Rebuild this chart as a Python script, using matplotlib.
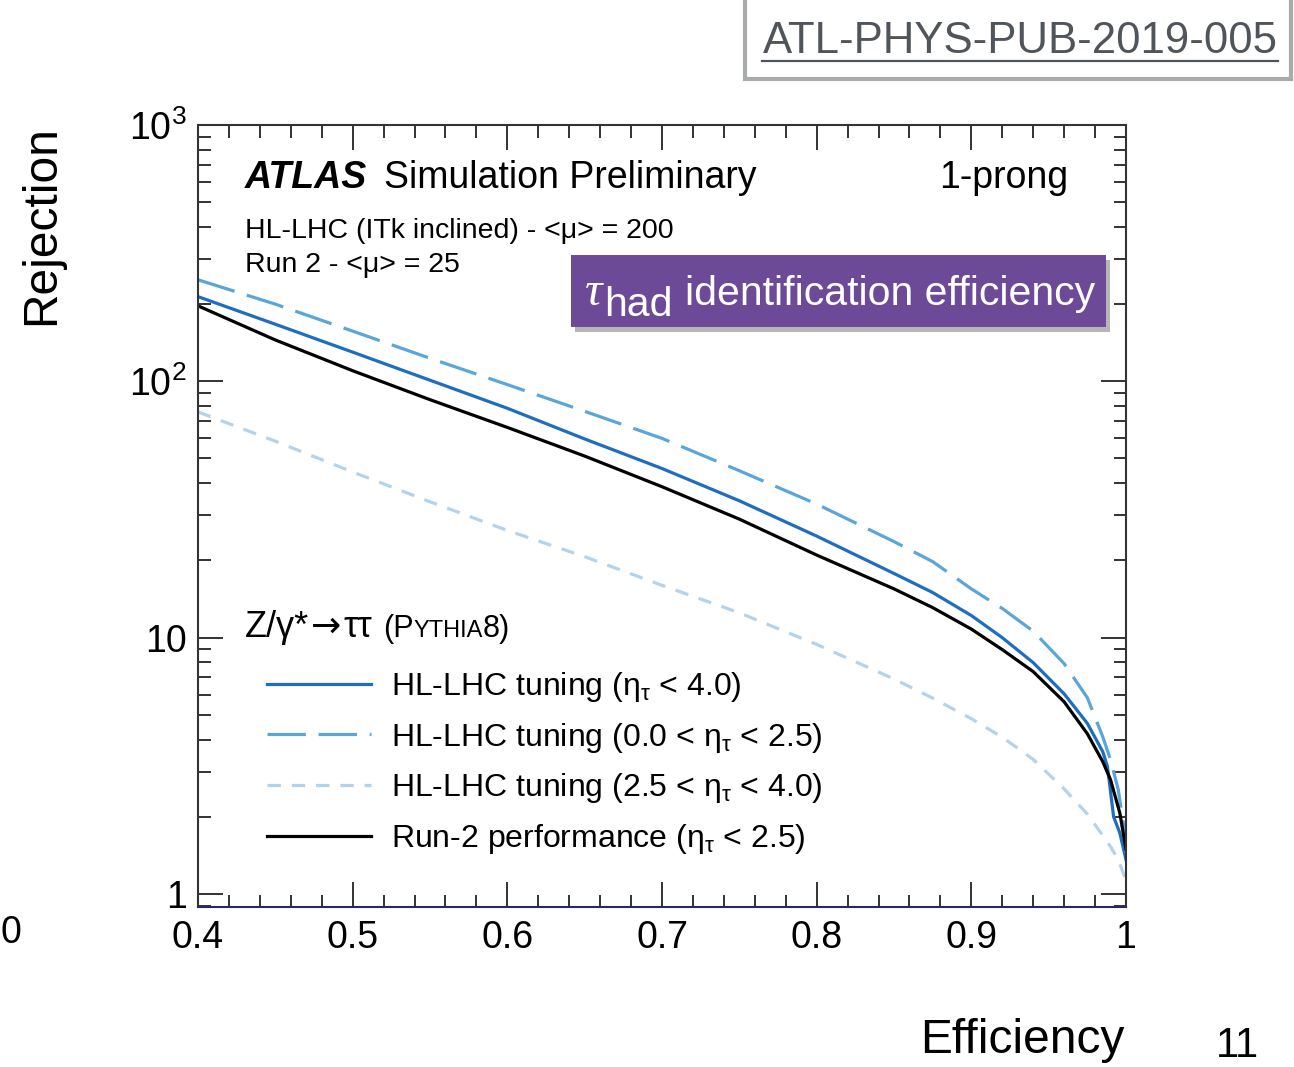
import math
import matplotlib
matplotlib.use("Agg")
import matplotlib.pyplot as plt
from matplotlib.lines import Line2D
from matplotlib.patches import Rectangle
from matplotlib.ticker import LogLocator, MultipleLocator, FuncFormatter, NullFormatter

plt.rcParams["font.family"] = ["Liberation Sans", "DejaVu Sans"]
plt.rcParams["mathtext.fontset"] = "custom"
plt.rcParams["mathtext.rm"] = "Liberation Sans"
plt.rcParams["mathtext.it"] = "Liberation Sans:italic"
plt.rcParams["mathtext.bf"] = "Liberation Sans:bold"

# ---- rejection vs. efficiency curves (1-prong) ----
eff_hl_all = [0.40, 0.45, 0.50, 0.55, 0.60, 0.65, 0.70, 0.75, 0.80, 0.85, 0.875,
              0.90, 0.92, 0.94, 0.96, 0.975, 0.985, 0.988, 0.992, 0.996, 1.0]
rej_hl_all = [214, 167, 130, 101, 78.5, 59.6, 45.7, 34.2, 24.9, 17.8, 15.0,
              12.2, 10.0, 7.99, 6.04, 4.63, 3.59, 3.14, 2.00, 1.73, 1.36]

eff_hl_central = [0.40, 0.45, 0.50, 0.55, 0.60, 0.65, 0.70, 0.75, 0.80, 0.85, 0.875,
                  0.90, 0.92, 0.94, 0.96, 0.975, 0.985, 0.99, 0.995, 0.9986, 1.0]
rej_hl_central = [249, 200, 157, 123, 97.1, 76.4, 59.9, 44.8, 33.2, 23.7, 19.8,
                  15.5, 13.0, 10.6, 7.92, 5.83, 4.10, 3.34, 2.55, 1.83, 1.45]

eff_hl_forward = [0.40, 0.45, 0.50, 0.55, 0.60, 0.65, 0.70, 0.75, 0.80, 0.85, 0.875,
                  0.90, 0.92, 0.94, 0.96, 0.975, 0.985, 0.99, 0.995, 1.0]
rej_hl_forward = [76, 58.4, 44.3, 33.9, 26.2, 20.7, 16.0, 12.5, 9.41, 6.90, 5.81,
                  4.83, 4.09, 3.35, 2.57, 2.05, 1.69, 1.53, 1.36, 1.13]

eff_run2 = [0.40, 0.45, 0.50, 0.55, 0.60, 0.65, 0.70, 0.75, 0.80, 0.85, 0.875,
            0.90, 0.92, 0.94, 0.96, 0.975, 0.985, 0.99, 0.996, 1.0]
rej_run2 = [197, 145, 110, 84.8, 66.1, 51.1, 38.8, 29.0, 21.0, 15.5, 13.1,
            10.8, 8.98, 7.37, 5.62, 4.22, 3.28, 2.79, 2.07, 1.49]

labels = [r"HL-LHC tuning ($\mathrm{\eta}_{\mathrm{\tau}}$ < 4.0)",
          r"HL-LHC tuning (0.0 < $\mathrm{\eta}_{\mathrm{\tau}}$ < 2.5)",
          r"HL-LHC tuning (2.5 < $\mathrm{\eta}_{\mathrm{\tau}}$ < 4.0)",
          r"Run-2 performance ($\mathrm{\eta}_{\mathrm{\tau}}$ < 2.5)"]

x_ticks = [0.4, 0.5, 0.6, 0.7, 0.8, 0.9, 1.0]
x_ticklabels = ["0.4", "0.5", "0.6", "0.7", "0.8", "0.9", "1"]

W, H = 1294, 1067
fig = plt.figure(figsize=(W / 100, H / 100), dpi=100)
fig.patch.set_facecolor("white")


def fx(p):
    return p / W


def fy(p):
    return 1 - p / H


ax = fig.add_axes([fx(198), fy(907), (1126 - 198) / W, (907 - 125) / H])

lw = 2.3
l1, = ax.plot(eff_hl_all, rej_hl_all, color="#1f6dbf", lw=lw, label=labels[0])
l2, = ax.plot(eff_hl_central, rej_hl_central, color="#5aa6d8", lw=lw,
              dashes=(12, 4), dash_capstyle="butt", label=labels[1])
l3, = ax.plot(eff_hl_forward, rej_hl_forward, color="#b3d3ec", lw=lw,
              dashes=(4.2, 3.4), dash_capstyle="butt", label=labels[2])
l4, = ax.plot(eff_run2, rej_run2, color="black", lw=lw, label=labels[3])

ax.set_yscale("log")
ax.set_xlim(0.4, 1.0)
ax.set_ylim(10 ** (-13 / 256), 1000)

ax.set_xticks(x_ticks)
ax.set_xticklabels(x_ticklabels)
ax.xaxis.set_minor_locator(MultipleLocator(0.02))
ax.yaxis.set_major_locator(LogLocator(base=10, numticks=10))
ax.yaxis.set_minor_locator(LogLocator(base=10, subs=range(2, 10), numticks=20))
ax.yaxis.set_minor_formatter(NullFormatter())


def ylab(v, pos):
    if v < 5:
        return "1"
    if v < 50:
        return "10"
    return r"$\mathregular{10^{%d}}$" % round(math.log10(v))


ax.yaxis.set_major_formatter(FuncFormatter(ylab))

for s in ax.spines.values():
    s.set_linewidth(1.5)
    s.set_color("#333333")
ax.spines["bottom"].set_color("#27276a")

ax.tick_params(which="both", direction="in", top=True, right=True,
               width=1.4, color="#333333", labelsize=27)
ax.tick_params(which="major", length=18)
ax.tick_params(which="minor", length=9)
ax.tick_params(axis="x", which="major", pad=9)
ax.tick_params(axis="y", which="major", pad=8)

renderer = fig.canvas.get_renderer()


def text_run(x_px, base_px, pieces):
    """Draw consecutive text pieces on one line; each piece is (text, gap_after_px, kwargs, dy_px)."""
    x = x_px
    for s, gap, kw, dy in pieces:
        t = fig.text(fx(x), fy(base_px + dy), s, ha="left", va="baseline", **kw)
        bb = t.get_window_extent(renderer=renderer)
        x += bb.width + gap


# ATLAS label
text_run(245, 188, [("ATLAS", 17, dict(fontsize=27, fontweight="bold", fontstyle="italic"), 0),
                    ("Simulation Preliminary", 0, dict(fontsize=27), 0)])
fig.text(fx(1068), fy(188), "1-prong", ha="right", va="baseline", fontsize=27)
fig.text(fx(245), fy(238), "HL-LHC (ITk inclined) - <μ> = 200", ha="left",
         va="baseline", fontsize=20.5)
fig.text(fx(245), fy(272), "Run 2 - <μ> = 25", ha="left", va="baseline", fontsize=20.5)

# legend title
text_run(245, 637, [("Z/γ*", 2, dict(fontsize=26), 0),
                    ("→", 2, dict(fontsize=26, family="DejaVu Sans"), 0),
                    ("ττ", 11, dict(fontsize=26), 0),
                    ("(P", 0, dict(fontsize=22), 0),
                    ("YTHIA", 0, dict(fontsize=17), 0),
                    ("8)", 0, dict(fontsize=22), 0)])

ax.legend(handles=[l1, l2, l3, l4], loc="upper left",
          bbox_to_anchor=(fx(267), fy(670)), bbox_transform=fig.transFigure,
          frameon=False, borderpad=0, borderaxespad=0, fontsize=23,
          handlelength=3.25, handletextpad=0.64, labelspacing=0.52)

# purple caption box with a soft shadow
bx0, by0, bx1, by1 = 571, 255, 1106, 327
fig.add_artist(Rectangle((fx(bx0 + 4), fy(by1 + 5)), (bx1 - bx0) / W, (by1 - by0) / H,
                         transform=fig.transFigure, facecolor="#7a7a7a", alpha=0.55,
                         edgecolor="none", zorder=4))
fig.add_artist(Rectangle((fx(bx0), fy(by1)), (bx1 - bx0) / W, (by1 - by0) / H,
                         transform=fig.transFigure, facecolor="#6c4a98",
                         edgecolor="none", zorder=5))
text_run(585, 305, [("τ", 2, dict(fontsize=35, family="Liberation Serif",
                                  fontstyle="italic", color="white", zorder=6), 0),
                    ("had", 12, dict(fontsize=29.5, color="white", zorder=6), 11),
                    ("identification efficiency", 0, dict(fontsize=29.5, color="white", zorder=6), 0)])

# document reference box
fig.add_artist(Rectangle((fx(745), fy(79)), (1291 - 745) / W, 90 / H,
                         transform=fig.transFigure, facecolor="white",
                         edgecolor="#a9abaa", linewidth=3, zorder=4))
fig.text(fx(1020), fy(53), "ATL-PHYS-PUB-2019-005", ha="center", va="baseline",
         fontsize=31.5, color="#50555b", zorder=6)
fig.add_artist(Line2D([fx(762), fx(1278)], [fy(61), fy(61)], transform=fig.transFigure,
                      color="#50555b", lw=1.6, zorder=6))

# axis titles and page elements
fig.text(fx(42), fy(225), "Rejection", rotation=90, ha="center", va="center", fontsize=34.5)
fig.text(fx(1125), fy(1053), "Efficiency", ha="right", va="baseline", fontsize=34.5)
fig.text(fx(1237), fy(1057), "11", ha="center", va="baseline", fontsize=30)
fig.text(fx(0), fy(943), "0", ha="left", va="baseline", fontsize=27)

fig.savefig("out.png", dpi=100)
